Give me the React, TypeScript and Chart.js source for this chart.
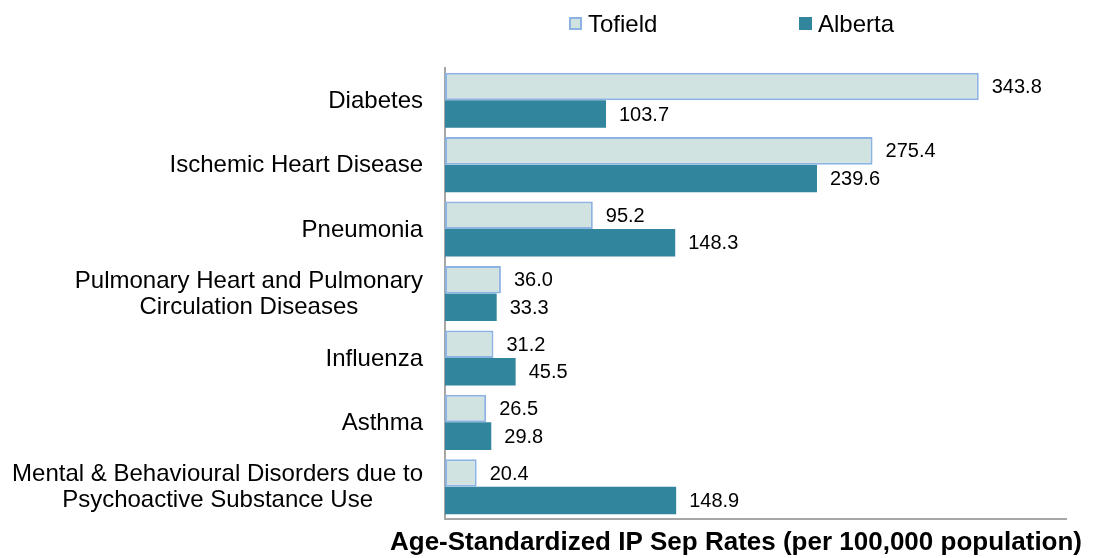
import React, { useEffect, useRef } from "react";
import { Chart, registerables } from "chart.js";

Chart.register(...registerables);

const categories: (string | string[])[] = [
  "Diabetes",
  "Ischemic Heart Disease",
  "Pneumonia",
  ["Pulmonary Heart and Pulmonary", "Circulation Diseases"],
  "Influenza",
  "Asthma",
  ["Mental & Behavioural Disorders due to", "Psychoactive Substance Use"],
];
const seriesNames = ["Tofield", "Alberta"];
const tofield = [343.8, 275.4, 95.2, 36.0, 31.2, 26.5, 20.4];
const alberta = [103.7, 239.6, 148.3, 33.3, 45.5, 29.8, 148.9];
const axisTitle = "Age-Standardized IP Sep Rates (per 100,000 population)";

const FONT = "'Liberation Sans', Arial, sans-serif";
const CAT_SIZE = 24;
const VAL_SIZE = 20;
const LEG_SIZE = 24;
const TITLE_SIZE = 26;

const colors = {
  tofieldFill: "#d1e3e1",
  tofieldBorder: "#8db3e2",
  albertaFill: "#31859c",
  axis: "#a6a6a6",
};

const labelsPlugin = {
  id: "customLabels",
  afterDraw(chart: any) {
    const ctx = chart.ctx;
    const ca = chart.chartArea;
    ctx.save();
    // value labels
    ctx.fillStyle = "#000";
    ctx.font = `${VAL_SIZE}px ${FONT}`;
    ctx.textAlign = "left";
    ctx.textBaseline = "middle";
    chart.data.datasets.forEach((ds: any, di: number) => {
      const meta = chart.getDatasetMeta(di);
      meta.data.forEach((el: any, i: number) => {
        const v = ds.data[i] as number;
        ctx.fillText(v.toFixed(1), el.x + 13, el.y + 1);
      });
    });
    // category labels
    const y = chart.scales.y;
    ctx.font = `${CAT_SIZE}px ${FONT}`;
    ctx.textAlign = "center";
    const rightX = ca.left - 22;
    const lh = 26;
    categories.forEach((c, i) => {
      const lines = Array.isArray(c) ? c : [c];
      const widths = lines.map((l) => ctx.measureText(l).width);
      const w = Math.max(...widths);
      const cx = rightX - w / 2;
      const cy = y.getPixelForValue(i);
      const start = cy - ((lines.length - 1) * lh) / 2;
      lines.forEach((l, li) => ctx.fillText(l, cx, start + li * lh + 1));
    });
    // axis title
    ctx.font = `bold ${TITLE_SIZE}px ${FONT}`;
    ctx.textAlign = "center";
    ctx.fillText(axisTitle, 736, 543);
    // legend
    ctx.font = `${LEG_SIZE}px ${FONT}`;
    ctx.textAlign = "left";
    const legendItems = [
      { x: 569, fill: colors.tofieldFill, border: colors.tofieldBorder },
      { x: 799, fill: colors.albertaFill, border: colors.albertaFill },
    ];
    legendItems.forEach((it, i) => {
      ctx.fillStyle = it.fill;
      ctx.fillRect(it.x, 17, 13, 13);
      ctx.strokeStyle = it.border;
      ctx.lineWidth = 2;
      ctx.strokeRect(it.x + 1, 18, 11, 11);
      ctx.fillStyle = "#000";
      ctx.fillText(seriesNames[i], it.x + 19, 25);
    });
    ctx.restore();
  },
};

export default function App() {
  const ref = useRef<HTMLCanvasElement | null>(null);
  useEffect(() => {
    if (!ref.current) return;
    const chart = new Chart(ref.current, {
      type: "bar",
      data: {
        labels: categories as any,
        datasets: [
          {
            label: seriesNames[0],
            data: tofield,
            backgroundColor: colors.tofieldFill,
            borderColor: colors.tofieldBorder,
            borderWidth: 2,
            borderSkipped: false,
            categoryPercentage: 0.855,
            barPercentage: 1,
          },
          {
            label: seriesNames[1],
            data: alberta,
            backgroundColor: colors.albertaFill,
            borderWidth: 0,
            categoryPercentage: 0.855,
            barPercentage: 1,
          },
        ],
      },
      options: {
        indexAxis: "y",
        responsive: false,
        animation: false,
        layout: { padding: { top: 68, right: 27, bottom: 0, left: 0 } },
        plugins: {
          legend: { display: false },
          tooltip: { enabled: false },
          title: { display: false },
        },
        scales: {
          x: {
            min: 0,
            max: 400,
            ticks: { display: false },
            grid: { display: false, drawTicks: false },
            border: { display: true, color: colors.axis, width: 2 },
            afterFit: (s: any) => {
              s.height = 39;
            },
          },
          y: {
            ticks: { display: false },
            grid: { display: false, drawTicks: false },
            border: { display: true, color: colors.axis, width: 2 },
            afterFit: (s: any) => {
              s.width = 445;
            },
          },
        },
      },
      plugins: [labelsPlugin],
    });
    return () => chart.destroy();
  }, []);
  return (
    <div style={{ position: "fixed", left: 0, top: 0, width: 1093, height: 558, background: "#fff" }}>
      <canvas ref={ref} width={1093} height={558} style={{ display: "block" }} />
    </div>
  );
}
